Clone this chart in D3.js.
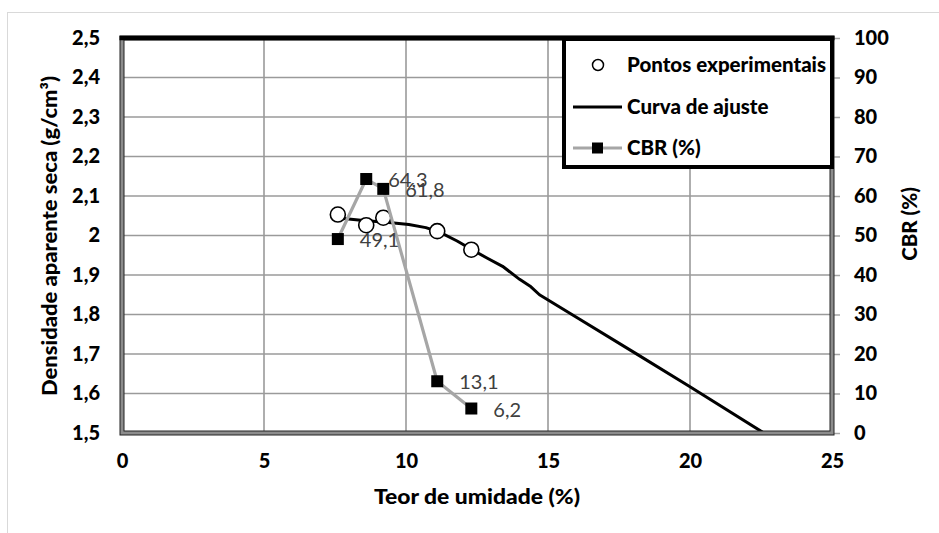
<!DOCTYPE html>
<html>
<head>
<meta charset="utf-8">
<script src="https://cdn.jsdelivr.net/npm/d3@7/dist/d3.min.js"></script>
<style>
  body { margin: 0; background: #fff; }
  svg text { font-family: Lato, "Open Sans", "DejaVu Sans", sans-serif; }
</style>
</head>
<body>
<svg id="chart" width="939" height="533"></svg>
<script>
// Ensaio de compactação: pontos experimentais, curva de ajuste e CBR
const umidade = [7.6, 8.6, 9.2, 11.1, 12.3];
const densidade = [2.053, 2.026, 2.045, 2.011, 1.964];
const cbr = [49.1, 64.3, 61.8, 13.1, 6.2];

const curvaUmidade = [7.8, 8.5, 9.4, 10.1, 10.7, 11.2, 11.8, 12.3, 12.85, 13.4, 14.0, 14.4, 14.7, 16.0, 18.1, 20.0, 22.6];
const curvaDensidade = [2.043, 2.038, 2.033, 2.028, 2.020, 2.008, 1.986, 1.965, 1.943, 1.922, 1.889, 1.870, 1.850, 1.793, 1.701, 1.617, 1.500];

const xTicks = [0, 5, 10, 15, 20, 25];
const yTicks = [1.5, 1.6, 1.7, 1.8, 1.9, 2.0, 2.1, 2.2, 2.3, 2.4, 2.5];
const cbrTicks = [0, 10, 20, 30, 40, 50, 60, 70, 80, 90, 100];

const legendItems = ["Pontos experimentais", "Curva de ajuste", "CBR (%)"];

const svg = d3.select("#chart");
const W = 939, H = 533;
const plot = { left: 122, right: 832, top: 38, bottom: 433 };

const x = d3.scaleLinear().domain([0, 25]).range([plot.left, plot.right]);
const yL = d3.scaleLinear().domain([1.5, 2.5]).range([plot.bottom, plot.top]);
const yR = d3.scaleLinear().domain([0, 100]).range([plot.bottom, plot.top]);

const ptBR = v => String(+v.toFixed(1)).replace(".", ",");

// fundo e borda externa do gráfico
svg.append("rect").attr("width", W).attr("height", H).attr("fill", "#fff");
svg.append("rect")
  .attr("x", 7.5).attr("y", 12.5).attr("width", 1000).attr("height", 1000)
  .attr("fill", "none").attr("stroke", "#d9d9d9").attr("stroke-width", 1);

// linhas de grade
const grid = svg.append("g").attr("stroke", "#9a9a9a").attr("stroke-width", 1.6);
grid.selectAll("line.v").data(xTicks.slice(1, -1)).join("line")
  .attr("x1", d => x(d)).attr("x2", d => x(d))
  .attr("y1", plot.top).attr("y2", plot.bottom);
grid.selectAll("line.h").data(yTicks.slice(1, -1)).join("line")
  .attr("x1", plot.left).attr("x2", plot.right)
  .attr("y1", d => yL(d)).attr("y2", d => yL(d));

// eixos
const axisFont = g => g.selectAll("text")
  .attr("font-size", 20).attr("font-weight", 900).attr("fill", "#000");

const gx = svg.append("g")
  .attr("transform", `translate(0,${plot.bottom})`)
  .call(d3.axisBottom(x).tickValues(xTicks).tickSize(0).tickPadding(21).tickFormat(ptBR));
gx.select(".domain").remove();
gx.call(axisFont);

const gyL = svg.append("g")
  .attr("transform", `translate(${plot.left},0)`)
  .call(d3.axisLeft(yL).tickValues(yTicks).tickSize(0).tickPadding(22).tickFormat(ptBR));
gyL.select(".domain").remove();
gyL.call(axisFont);

const gyR = svg.append("g")
  .attr("transform", `translate(${plot.right + 2},0)`)
  .call(d3.axisRight(yR).tickValues(cbrTicks).tickSize(6).tickPadding(14).tickFormat(d3.format("d")));
gyR.select(".domain").remove();
gyR.selectAll(".tick line").attr("stroke", "#a6a6a6").attr("stroke-width", 1.5);
gyR.call(axisFont);

// curva de ajuste
const curva = curvaUmidade.map((u, i) => [u, curvaDensidade[i]]);
svg.append("path")
  .attr("d", d3.line().x(d => x(d[0])).y(d => yL(d[1]))(curva))
  .attr("fill", "none").attr("stroke", "#000").attr("stroke-width", 3)
  .attr("stroke-linejoin", "round");

// pontos experimentais
svg.append("g").selectAll("circle").data(umidade).join("circle")
  .attr("cx", d => x(d)).attr("cy", (d, i) => yL(densidade[i]))
  .attr("r", 7.5).attr("fill", "#fff").attr("stroke", "#000").attr("stroke-width", 1.6);

// série CBR no eixo secundário
const serieCBR = umidade.map((u, i) => [u, cbr[i]]);
svg.append("path")
  .attr("d", d3.line().x(d => x(d[0])).y(d => yR(d[1]))(serieCBR))
  .attr("fill", "none").attr("stroke", "#a6a6a6").attr("stroke-width", 3.2)
  .attr("stroke-linejoin", "round");
svg.append("g").selectAll("rect").data(serieCBR).join("rect")
  .attr("x", d => x(d[0]) - 6).attr("y", d => yR(d[1]) - 6)
  .attr("width", 12).attr("height", 12).attr("fill", "#000");
svg.append("g").selectAll("text").data(serieCBR).join("text")
  .attr("x", d => x(d[0]) + 22).attr("y", d => yR(d[1]) + 8)
  .attr("font-size", 20).attr("fill", "#404040")
  .text(d => ptBR(d[1]));

// moldura da área de plotagem
const pw = plot.right - plot.left, ph = plot.bottom - plot.top;
svg.append("rect")
  .attr("x", plot.left).attr("y", plot.top).attr("width", pw).attr("height", ph)
  .attr("fill", "none").attr("stroke", "#8c8c8c").attr("stroke-width", 4);
svg.append("rect")
  .attr("x", plot.left - 2).attr("y", plot.top - 2).attr("width", pw + 4).attr("height", ph + 4)
  .attr("fill", "none").attr("stroke", "#222").attr("stroke-width", 1);
svg.append("rect")
  .attr("x", plot.left + 2).attr("y", plot.top + 2).attr("width", pw - 4).attr("height", ph - 4)
  .attr("fill", "none").attr("stroke", "#222").attr("stroke-width", 1);
svg.append("line")
  .attr("x1", plot.left - 2.5).attr("x2", plot.right + 2.5)
  .attr("y1", plot.top).attr("y2", plot.top)
  .attr("stroke", "#000").attr("stroke-width", 4.5);

// legenda
const leg = svg.append("g");
leg.append("rect")
  .attr("x", 564).attr("y", 39).attr("width", 268).attr("height", 128)
  .attr("fill", "#fff").attr("stroke", "#000").attr("stroke-width", 4);
const rowsY = [65, 107, 148];
leg.append("circle").attr("cx", 598).attr("cy", rowsY[0]).attr("r", 5.5)
  .attr("fill", "#fff").attr("stroke", "#000").attr("stroke-width", 1.5);
leg.append("line").attr("x1", 573).attr("x2", 622).attr("y1", rowsY[1]).attr("y2", rowsY[1])
  .attr("stroke", "#000").attr("stroke-width", 3);
leg.append("line").attr("x1", 573).attr("x2", 622).attr("y1", rowsY[2]).attr("y2", rowsY[2])
  .attr("stroke", "#a6a6a6").attr("stroke-width", 3.2);
leg.append("rect").attr("x", 592).attr("y", rowsY[2] - 5.5).attr("width", 11).attr("height", 11)
  .attr("fill", "#000");
leg.selectAll("text").data(legendItems).join("text")
  .attr("x", 627).attr("y", (d, i) => rowsY[i] + 7)
  .attr("font-size", 20.5).attr("font-weight", 900).attr("fill", "#000")
  .text(d => d);

// títulos dos eixos
svg.append("text")
  .attr("x", 477).attr("y", 504).attr("text-anchor", "middle")
  .attr("font-size", 20.5).attr("font-weight", 900)
  .attr("textLength", 206).attr("lengthAdjust", "spacingAndGlyphs")
  .text("Teor de umidade (%)");
svg.append("text")
  .attr("transform", `translate(57,236) rotate(-90)`).attr("text-anchor", "middle")
  .attr("font-size", 20.5).attr("font-weight", 900)
  .attr("textLength", 320).attr("lengthAdjust", "spacingAndGlyphs")
  .text("Densidade aparente seca (g/cm³)");
svg.append("text")
  .attr("transform", `translate(917,224) rotate(-90)`).attr("text-anchor", "middle")
  .attr("font-size", 20.5).attr("font-weight", 900)
  .text("CBR (%)");
</script>
</body>
</html>
